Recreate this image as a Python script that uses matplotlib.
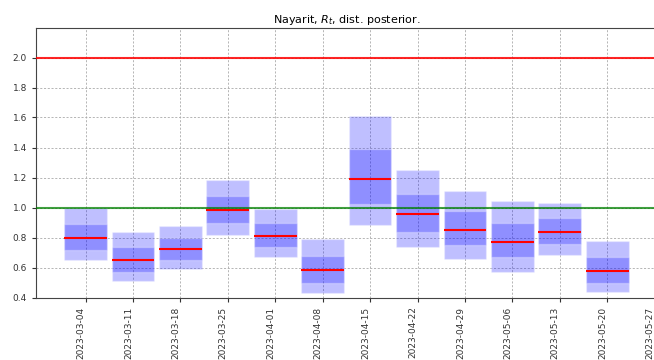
import matplotlib
matplotlib.use('Agg')
import matplotlib.pyplot as plt
import matplotlib.dates as mdates
import numpy as np
import pandas as pd

# weekly posterior summaries of R_t for Nayarit
fechas = pd.date_range('2023-03-04', periods=12, freq='7D')
q05 = [0.647, 0.509, 0.589, 0.818, 0.671, 0.429, 0.885, 0.736, 0.660, 0.573, 0.682, 0.435]
q25 = [0.715, 0.573, 0.651, 0.898, 0.740, 0.498, 1.025, 0.836, 0.751, 0.667, 0.756, 0.500]
q50 = [0.800, 0.651, 0.722, 0.984, 0.813, 0.582, 1.193, 0.958, 0.853, 0.773, 0.840, 0.578]
q75 = [0.893, 0.740, 0.795, 1.080, 0.896, 0.680, 1.387, 1.093, 0.978, 0.900, 0.933, 0.669]
q95 = [0.998, 0.838, 0.880, 1.182, 0.987, 0.793, 1.613, 1.247, 1.109, 1.042, 1.031, 0.778]

q05, q25, q50, q75, q95 = map(np.array, (q05, q25, q50, q75, q95))
ancho = 6.3  # days

fig = plt.figure(figsize=(6.54, 3.6), dpi=100)
ax = fig.add_axes([36 / 654, 62.5 / 360, 620.8 / 654, 270 / 360])

ax.bar(fechas, q95 - q05, bottom=q05, width=ancho, color='blue', alpha=0.25,
       edgecolor='white', linewidth=1, zorder=2)
ax.bar(fechas, q75 - q25, bottom=q25, width=ancho, color='blue', alpha=0.25,
       edgecolor='white', linewidth=1, zorder=2)
half = pd.Timedelta(days=ancho / 2)
ax.hlines(q50, fechas - half, fechas + half, color='red', linewidth=1.5, zorder=3)

ax.axhline(1.0, color='green', alpha=0.75, linewidth=1.5, zorder=3)
ax.axhline(2.0, color='red', alpha=0.85, linewidth=1.5, zorder=3)

ax.set_ylim(0.4, 2.2)
ax.set_yticks(np.arange(0.4, 2.01, 0.2))
ax.yaxis.set_major_formatter(plt.FormatStrFormatter('%.1f'))
ax.set_xticks(pd.date_range('2023-03-04', '2023-05-27', freq='7D'))
ax.xaxis.set_major_formatter(mdates.DateFormatter('%Y-%m-%d'))
plt.setp(ax.get_xticklabels(), rotation=90, ha='right')
ax.tick_params(labelsize=6.5, colors='#333333', length=3)
for s in ax.spines.values():
    s.set_color('#444444')
ax.grid(True, color='#aaaaaa', linestyle=(0, (2.5, 2)), linewidth=0.6, zorder=1)
ax.set_axisbelow(True)
ax.set_title('Nayarit, $R_t$, dist. posterior.', fontsize=8, pad=3)

fig.savefig('out.png', dpi=100)
